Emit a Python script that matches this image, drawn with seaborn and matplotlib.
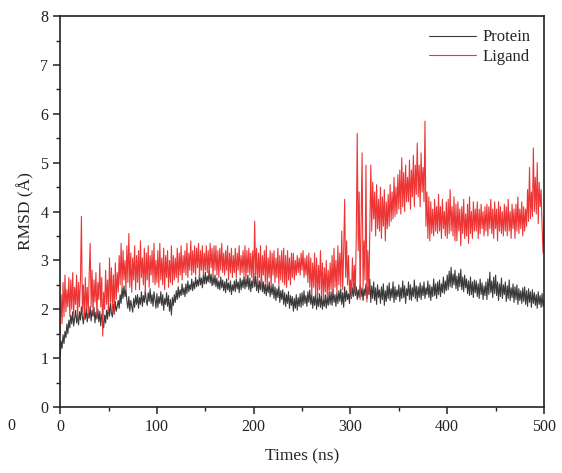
import numpy as np
import pandas as pd
import matplotlib
matplotlib.use("Agg")
import matplotlib.pyplot as plt
from matplotlib.ticker import MultipleLocator
import seaborn as sns

# time axis, one frame per ns
times = np.arange(0, 501, 1)

protein = [
    1.02, 1.35, 1.20, 1.48, 1.30, 1.55, 1.42, 1.70, 1.50, 1.78,
    1.62, 1.88, 1.70, 1.95, 1.66, 1.82, 1.98, 1.72, 1.90, 1.68,
    1.95, 1.78, 2.05, 1.84, 1.70, 1.96, 1.80, 2.02, 1.74, 1.92,
    1.82, 2.06, 1.76, 1.98, 1.86, 2.04, 1.72, 1.94, 1.80, 2.00,
    1.74, 1.96, 1.66, 1.90, 1.78, 1.62, 1.88, 1.72, 1.98, 1.80,
    2.08, 1.86, 2.12, 1.92, 1.84, 2.10, 1.90, 2.16, 1.96, 2.06,
    2.18, 2.02, 2.30, 2.12, 2.44, 2.22, 2.48, 2.26, 2.40, 2.16,
    2.02, 2.26, 1.96, 2.18, 2.06, 1.94, 2.22, 2.04, 2.28, 2.10,
    2.30, 2.02, 2.24, 2.10, 2.36, 2.06, 2.28, 2.14, 2.38, 2.18,
    2.08, 2.34, 2.16, 2.42, 2.12, 2.30, 2.06, 2.36, 2.20, 2.02,
    2.32, 2.04, 2.26, 2.12, 2.36, 2.08, 2.30, 1.98, 2.22, 2.10,
    2.34, 2.06, 2.28, 1.96, 2.20, 1.88, 2.24, 2.08, 2.30, 2.14,
    2.38, 2.20, 2.46, 2.24, 2.40, 2.28, 2.52, 2.30, 2.44, 2.26,
    2.52, 2.32, 2.58, 2.36, 2.50, 2.40, 2.62, 2.38, 2.56, 2.42,
    2.66, 2.46, 2.60, 2.48, 2.72, 2.50, 2.64, 2.44, 2.70, 2.52,
    2.76, 2.52, 2.68, 2.56, 2.80, 2.54, 2.72, 2.48, 2.66, 2.50,
    2.70, 2.46, 2.64, 2.42, 2.58, 2.40, 2.66, 2.44, 2.60, 2.38,
    2.56, 2.34, 2.62, 2.40, 2.54, 2.36, 2.58, 2.30, 2.50, 2.38,
    2.58, 2.36, 2.62, 2.42, 2.56, 2.34, 2.64, 2.40, 2.60, 2.44,
    2.68, 2.42, 2.62, 2.46, 2.70, 2.40, 2.64, 2.36, 2.58, 2.44,
    2.74, 2.46, 2.68, 2.38, 2.62, 2.34, 2.58, 2.40, 2.66, 2.36,
    2.56, 2.32, 2.52, 2.28, 2.50, 2.34, 2.56, 2.26, 2.48, 2.30,
    2.52, 2.22, 2.46, 2.18, 2.42, 2.24, 2.48, 2.14, 2.38, 2.20,
    2.40, 2.10, 2.34, 2.06, 2.30, 2.12, 2.36, 2.02, 2.28, 2.08,
    2.26, 1.96, 2.22, 2.02, 2.30, 1.98, 2.24, 2.06, 2.32, 2.04,
    2.34, 2.08, 2.38, 2.12, 2.28, 2.06, 2.36, 2.14, 2.40, 2.10,
    2.30, 2.02, 2.26, 2.08, 2.34, 2.00, 2.24, 2.06, 2.32, 2.04,
    2.28, 2.00, 2.22, 2.06, 2.30, 2.02, 2.26, 2.08, 2.34, 2.10,
    2.36, 2.08, 2.40, 2.14, 2.30, 2.06, 2.34, 2.12, 2.38, 2.16,
    2.42, 2.10, 2.34, 2.04, 2.46, 2.16, 2.38, 2.20, 2.32, 2.12,
    2.48, 2.22, 2.44, 2.26, 2.54, 2.28, 2.46, 2.20, 2.40, 2.24,
    2.50, 2.26, 2.44, 2.18, 2.42, 2.28, 2.52, 2.22, 2.46, 2.30,
    2.62, 2.14, 2.48, 2.22, 2.56, 2.18, 2.44, 2.10, 2.50, 2.24,
    2.40, 2.12, 2.46, 2.20, 2.52, 2.08, 2.38, 2.16, 2.48, 2.22,
    2.54, 2.18, 2.42, 2.24, 2.56, 2.14, 2.46, 2.20, 2.40, 2.26,
    2.50, 2.16, 2.44, 2.22, 2.58, 2.24, 2.48, 2.12, 2.42, 2.28,
    2.56, 2.20, 2.50, 2.18, 2.44, 2.26, 2.60, 2.22, 2.48, 2.16,
    2.46, 2.24, 2.54, 2.20, 2.48, 2.28, 2.56, 2.22, 2.44, 2.30,
    2.58, 2.24, 2.50, 2.18, 2.46, 2.26, 2.62, 2.28, 2.52, 2.22,
    2.56, 2.30, 2.60, 2.26, 2.52, 2.34, 2.66, 2.32, 2.58, 2.38,
    2.70, 2.40, 2.78, 2.46, 2.86, 2.44, 2.72, 2.50, 2.80, 2.42,
    2.68, 2.38, 2.74, 2.46, 2.82, 2.40, 2.66, 2.36, 2.70, 2.44,
    2.62, 2.32, 2.58, 2.28, 2.66, 2.30, 2.56, 2.24, 2.60, 2.34,
    2.58, 2.26, 2.52, 2.22, 2.62, 2.30, 2.54, 2.20, 2.48, 2.28,
    2.56, 2.20, 2.62, 2.30, 2.76, 2.34, 2.58, 2.24, 2.66, 2.32,
    2.70, 2.28, 2.56, 2.18, 2.52, 2.26, 2.64, 2.22, 2.50, 2.30,
    2.56, 2.16, 2.48, 2.22, 2.60, 2.18, 2.44, 2.24, 2.52, 2.14,
    2.46, 2.20, 2.50, 2.10, 2.42, 2.18, 2.38, 2.12, 2.44, 2.16,
    2.46, 2.10, 2.38, 2.06, 2.42, 2.14, 2.36, 2.04, 2.40, 2.12,
    2.34, 2.08, 2.30, 2.02, 2.36, 2.10, 2.28, 2.04, 2.32, 2.06,
    2.18,
]

ligand = [
    1.50, 2.30, 1.70, 2.55, 1.85, 2.70, 1.95, 2.40, 2.05, 2.65,
    1.85, 2.60, 2.00, 2.75, 1.90, 2.45, 2.10, 2.70, 1.80, 2.55,
    2.05, 2.60, 3.90, 1.95, 2.50, 1.80, 2.65, 2.00, 2.45, 1.85,
    2.70, 3.35, 2.05, 2.80, 1.90, 2.60, 2.15, 2.75, 1.85, 2.55,
    2.20, 2.95, 2.05, 2.65, 1.45, 2.35, 2.00, 2.80, 2.10, 2.60,
    1.95, 3.05, 2.15, 2.85, 2.00, 2.70, 1.90, 2.95, 2.20, 2.75,
    2.35, 3.10, 2.50, 3.35, 2.45, 3.20, 2.60, 3.00, 2.40, 3.30,
    2.55, 3.55, 2.45, 3.15, 2.35, 3.05, 2.60, 3.30, 2.40, 3.10,
    2.55, 3.20, 2.40, 3.40, 2.65, 3.05, 2.50, 3.25, 2.35, 3.15,
    2.60, 3.30, 2.45, 3.10, 2.70, 3.20, 2.55, 3.35, 2.50, 3.00,
    2.55, 3.20, 2.45, 3.35, 2.60, 3.05, 2.50, 3.25, 2.40, 3.10,
    2.65, 3.20, 2.45, 3.00, 2.55, 3.30, 2.50, 3.10, 2.60, 3.05,
    2.65, 3.25, 2.55, 3.15, 2.70, 3.30, 2.60, 3.10, 2.75, 3.20,
    2.70, 3.35, 2.65, 3.15, 2.80, 3.40, 2.70, 3.20, 2.75, 3.30,
    2.70, 3.25, 2.85, 3.35, 2.65, 3.20, 2.80, 3.30, 2.70, 3.15,
    2.80, 3.30, 2.75, 3.20, 2.70, 3.35, 2.85, 3.25, 2.65, 3.30,
    2.80, 3.30, 2.70, 3.20, 2.65, 3.25, 2.80, 3.35, 2.75, 3.15,
    2.70, 3.20, 2.80, 3.30, 2.60, 3.15, 2.75, 3.25, 2.65, 3.10,
    2.75, 3.25, 2.65, 3.15, 2.80, 3.30, 2.70, 3.10, 2.75, 3.20,
    2.70, 3.30, 2.60, 3.20, 2.75, 3.25, 2.70, 3.15, 2.65, 3.20,
    2.55, 3.80, 2.70, 3.25, 2.50, 3.15, 2.65, 3.30, 2.45, 3.10,
    2.70, 3.20, 2.55, 3.30, 2.50, 3.05, 2.65, 3.20, 2.45, 3.15,
    2.70, 3.20, 2.55, 3.05, 2.65, 3.25, 2.50, 3.10, 2.60, 3.20,
    2.55, 3.25, 2.50, 3.10, 2.45, 3.20, 2.60, 3.05, 2.50, 3.15,
    2.65, 3.15, 2.60, 3.00, 2.70, 3.10, 2.75, 3.05, 2.70, 3.15,
    2.80, 3.20, 2.65, 3.05, 2.70, 3.10, 2.55, 3.15, 2.45, 3.05,
    2.30, 2.95, 2.45, 3.15, 2.30, 3.05, 2.25, 2.90, 2.40, 3.20,
    2.30, 2.95, 2.20, 2.85, 2.35, 3.00, 2.25, 2.80, 2.30, 2.95,
    2.40, 3.10, 2.30, 3.25, 2.45, 3.00, 2.35, 3.30, 2.50, 3.15,
    2.45, 3.60, 2.40, 3.20, 4.25, 2.65, 3.40, 2.50, 3.10, 2.35,
    2.60, 2.25, 3.05, 2.40, 2.90, 2.35, 3.50, 5.60, 3.20, 4.40,
    2.20, 3.80, 5.20, 2.45, 3.40, 2.60, 4.95, 2.15, 3.20, 2.30,
    3.70, 4.95, 3.60, 4.60, 3.85, 4.40, 3.50, 4.55, 3.65, 4.25,
    3.60, 4.50, 3.45, 4.30, 3.70, 4.45, 3.40, 4.20, 3.65, 4.35,
    3.70, 4.55, 3.80, 4.40, 3.85, 4.70, 3.90, 4.50, 3.95, 4.75,
    4.05, 4.85, 3.95, 5.10, 4.10, 4.80, 4.00, 4.95, 4.20, 4.70,
    4.20, 5.05, 4.05, 4.85, 4.30, 5.15, 4.10, 4.95, 4.35, 5.40,
    4.30, 4.95, 4.10, 5.20, 4.40, 4.90, 4.20, 5.85, 3.70, 4.40,
    3.45, 4.30, 3.40, 4.20, 3.55, 4.05, 3.50, 4.25, 3.60, 4.10,
    3.55, 4.35, 3.60, 4.10, 3.45, 4.25, 3.65, 4.00, 3.50, 4.20,
    3.45, 4.25, 3.55, 4.45, 3.60, 4.10, 3.50, 4.30, 3.40, 4.15,
    3.40, 4.20, 3.60, 4.05, 3.30, 4.10, 3.55, 4.25, 3.45, 3.95,
    3.50, 4.15, 3.35, 4.30, 3.55, 4.00, 3.45, 4.20, 3.60, 4.05,
    3.60, 4.20, 3.45, 4.05, 3.55, 4.15, 3.65, 4.00, 3.50, 4.10,
    3.60, 4.15, 3.50, 4.10, 3.65, 4.25, 3.55, 4.05, 3.45, 4.20,
    3.65, 4.05, 3.40, 4.20, 3.60, 4.10, 3.55, 4.00, 3.50, 4.15,
    3.60, 4.10, 3.50, 4.25, 3.60, 4.00, 3.45, 4.15, 3.65, 4.05,
    3.45, 4.15, 3.60, 4.30, 3.55, 4.05, 3.65, 4.20, 3.50, 4.10,
    3.60, 4.05, 3.70, 4.45, 3.80, 4.90, 3.85, 4.40, 3.90, 5.30,
    4.00, 4.70, 3.95, 5.00, 3.75, 4.60, 4.10, 4.45, 3.70, 3.15,
    3.90,
]

df = pd.DataFrame({
    "time": np.concatenate([times, times]),
    "rmsd": protein + ligand,
    "series": ["Protein"] * len(times) + ["Ligand"] * len(times),
})

sns.set_style("ticks")
plt.rcParams["font.family"] = ["Liberation Serif", "DejaVu Serif"]
plt.rcParams["axes.unicode_minus"] = False

fig = plt.figure(figsize=(5.62, 4.73), dpi=100)
ax = fig.add_axes([0.107, 0.1395, 0.861, 0.8265])

sns.lineplot(data=df, x="time", y="rmsd", hue="series",
             palette={"Protein": "#3a3a3a", "Ligand": "#ee3535"},
             linewidth=0.8, ax=ax, estimator=None, sort=False)

ax.set_xlim(0, 500)
ax.set_ylim(0, 8)
ax.xaxis.set_major_locator(MultipleLocator(100))
ax.xaxis.set_minor_locator(MultipleLocator(50))
ax.yaxis.set_major_locator(MultipleLocator(1))
ax.yaxis.set_minor_locator(MultipleLocator(0.5))
ax.tick_params(which="major", direction="out", length=5, width=1.1,
               labelsize=11.5, colors="#222222")
ax.tick_params(which="minor", direction="out", length=3, width=1.0,
               colors="#222222")
for sp in ax.spines.values():
    sp.set_linewidth(1.2)
    sp.set_color("#222222")

ax.set_xlabel("Times (ns)", fontsize=12.5, labelpad=10)
ax.set_ylabel("RMSD (Å)", fontsize=12.5, labelpad=4)

leg = ax.legend(loc="upper right", frameon=False, fontsize=12,
                handlelength=2.8, handletextpad=0.4, labelspacing=0.2,
                borderaxespad=0.4)
for line in leg.get_lines():
    line.set_linewidth(0.8)
leg.set_title(None)

fig.text(0.014, 0.09, "0", fontsize=11.5, color="#222222")

fig.savefig("out.png", dpi=100)
